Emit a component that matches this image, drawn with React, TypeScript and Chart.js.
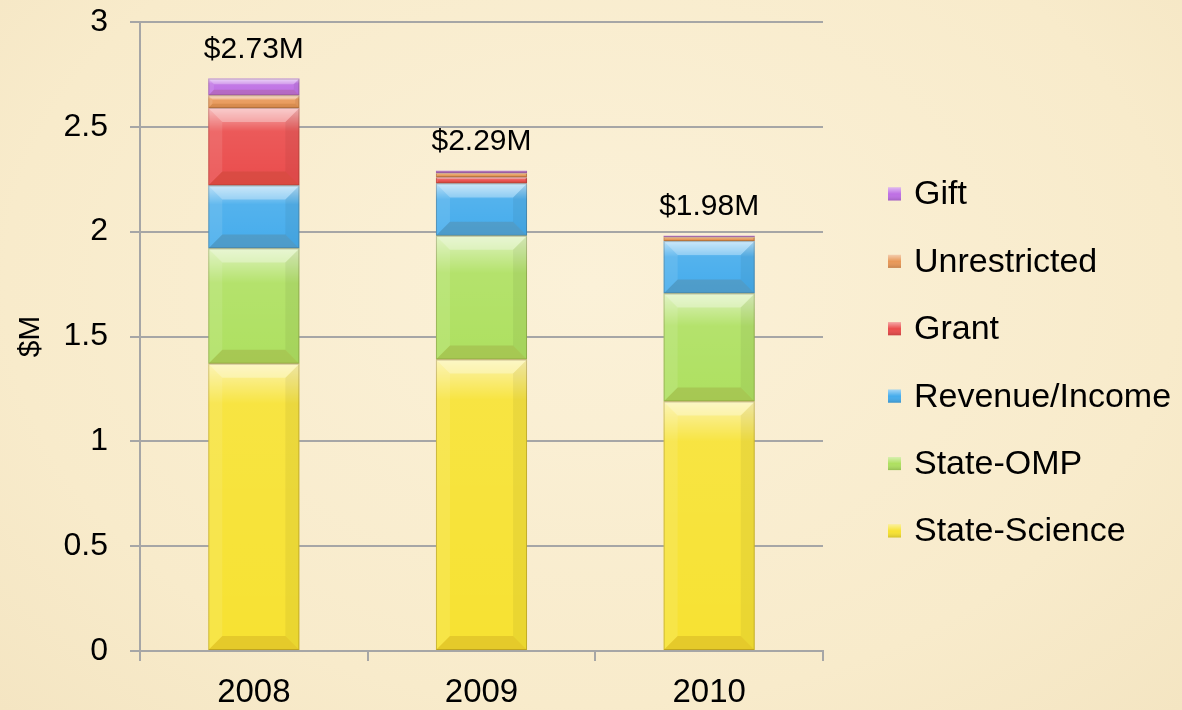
import React, { useEffect, useRef } from "react";
import { Chart, registerables } from "chart.js";

Chart.register(...registerables);

const years = ["2008", "2009", "2010"];
const stateScience = [1.37, 1.39, 1.19];
const stateOMP = [0.55, 0.59, 0.515];
const revenueIncome = [0.3, 0.25, 0.25];
const grant = [0.37, 0.03, 0.0];
const unrestricted = [0.06, 0.02, 0.02];
const gift = [0.08, 0.01, 0.005];
const yTicks = [0, 0.5, 1, 1.5, 2, 2.5, 3];

const seriesNames = ["State-Science", "State-OMP", "Revenue/Income", "Grant", "Unrestricted", "Gift"];
const seriesData = [stateScience, stateOMP, revenueIncome, grant, unrestricted, gift];
const seriesColors = ["#F7E232", "#AEE060", "#45ACEC", "#EA4C4C", "#E89858", "#BE6FE4"];

const FONT = "'Liberation Sans', Arial, sans-serif";

const bevelPlugin = {
  id: "bevel",
  afterDatasetsDraw(chart: any) {
    const ctx = chart.ctx;
    chart.data.datasets.forEach((ds: any, di: number) => {
      const meta = chart.getDatasetMeta(di);
      meta.data.forEach((el: any) => {
        const { x, y, base, width } = el.getProps(["x", "y", "base", "width"], true);
        const x0 = x - width / 2;
        const x1 = x + width / 2;
        const top = Math.min(y, base);
        const bot = Math.max(y, base);
        const h = bot - top;
        if (h < 0.5) return;
        const b = Math.min(14, h / 3);
        ctx.save();
        const g = ctx.createLinearGradient(0, top, 0, bot);
        g.addColorStop(0, "rgba(255,255,255,0.6)");
        g.addColorStop(Math.min(0.3, 40 / h), "rgba(255,255,255,0.08)");
        g.addColorStop(1, "rgba(255,255,255,0)");
        ctx.fillStyle = g;
        ctx.fillRect(x0, top, width, h);
        ctx.fillStyle = "rgba(255,255,255,0.3)";
        ctx.beginPath();
        ctx.moveTo(x0, top);
        ctx.lineTo(x1, top);
        ctx.lineTo(x1 - b, top + b);
        ctx.lineTo(x0 + b, top + b);
        ctx.closePath();
        ctx.fill();
        ctx.fillStyle = "rgba(120,60,0,0.14)";
        ctx.beginPath();
        ctx.moveTo(x0, bot);
        ctx.lineTo(x1, bot);
        ctx.lineTo(x1 - b, bot - b);
        ctx.lineTo(x0 + b, bot - b);
        ctx.closePath();
        ctx.fill();
        ctx.fillStyle = "rgba(255,255,255,0.1)";
        ctx.beginPath();
        ctx.moveTo(x0, top);
        ctx.lineTo(x0 + b, top + b);
        ctx.lineTo(x0 + b, bot - b);
        ctx.lineTo(x0, bot);
        ctx.closePath();
        ctx.fill();
        ctx.fillStyle = "rgba(0,0,0,0.05)";
        ctx.beginPath();
        ctx.moveTo(x1, top);
        ctx.lineTo(x1 - b, top + b);
        ctx.lineTo(x1 - b, bot - b);
        ctx.lineTo(x1, bot);
        ctx.closePath();
        ctx.fill();
        ctx.strokeStyle = "rgba(60,30,0,0.22)";
        ctx.lineWidth = 1;
        ctx.strokeRect(x0 + 0.5, top + 0.5, width - 1, h - 1);
        ctx.restore();
      });
    });
  },
};

const totalsPlugin = {
  id: "totals",
  afterDatasetsDraw(chart: any) {
    const ctx = chart.ctx;
    const yScale = chart.scales.y;
    const meta0 = chart.getDatasetMeta(0);
    ctx.save();
    ctx.font = `30px ${FONT}`;
    ctx.fillStyle = "#000";
    ctx.textAlign = "center";
    ctx.textBaseline = "bottom";
    years.forEach((_, i) => {
      const total = seriesData.reduce((s, arr) => s + arr[i], 0);
      const x = meta0.data[i].x;
      const yPix = yScale.getPixelForValue(total);
      ctx.fillText(`$${total.toFixed(2)}M`, x, yPix - 14);
    });
    ctx.restore();
  },
};

const legendPlugin = {
  id: "customLegend",
  afterDraw(chart: any) {
    const ctx = chart.ctx;
    const area = chart.chartArea;
    const items = chart.data.datasets.map((d: any) => ({ label: d.label, color: d.backgroundColor })).reverse();
    const boxX = area.right + 65;
    const startY = 194;
    const step = 67.4;
    ctx.save();
    ctx.font = `34px ${FONT}`;
    ctx.textBaseline = "middle";
    ctx.textAlign = "left";
    items.forEach((it: any, i: number) => {
      const cy = startY + i * step;
      const s = 13;
      const bx = boxX;
      const by = cy - s / 2;
      ctx.fillStyle = it.color;
      ctx.fillRect(bx, by, s, s);
      const g = ctx.createLinearGradient(0, by, 0, by + s);
      g.addColorStop(0, "rgba(255,255,255,0.5)");
      g.addColorStop(0.5, "rgba(255,255,255,0)");
      g.addColorStop(1, "rgba(0,0,0,0.15)");
      ctx.fillStyle = g;
      ctx.fillRect(bx, by, s, s);
      ctx.fillStyle = "#000";
      ctx.fillText(it.label, bx + 26, cy + 1);
    });
    ctx.restore();
  },
};

export default function App() {
  const ref = useRef<HTMLCanvasElement | null>(null);
  useEffect(() => {
    if (!ref.current) return;
    const chart = new Chart(ref.current, {
      type: "bar",
      data: {
        labels: years,
        datasets: seriesNames.map((name, i) => ({
          label: name,
          data: seriesData[i],
          backgroundColor: seriesColors[i],
          borderWidth: 0,
          barPercentage: 0.4,
          categoryPercentage: 1,
        })),
      },
      options: {
        responsive: false,
        animation: false,
        layout: { padding: { top: 22, right: 359, left: 0, bottom: 0 } },
        plugins: {
          legend: { display: false },
          tooltip: { enabled: false },
        },
        scales: {
          x: {
            stacked: true,
            offset: true,
            grid: {
              display: true,
              drawOnChartArea: false,
              drawTicks: true,
              tickLength: 10,
              color: "#A6A6A6",
              lineWidth: 2,
              offset: true,
            },
            border: { display: true, color: "#A6A6A6", width: 2 },
            ticks: {
              color: "#000",
              font: { family: FONT, size: 33 },
              padding: 12,
              maxRotation: 0,
            },
            afterFit: (scale: any) => {
              scale.height = 59;
            },
          },
          y: {
            stacked: true,
            min: 0,
            max: 3,
            afterBuildTicks: (scale: any) => {
              scale.ticks = yTicks.map((v) => ({ value: v }));
            },
            grid: {
              color: "#A6A6A6",
              lineWidth: 2,
              tickLength: 10,
            },
            border: { display: true, color: "#A6A6A6", width: 2 },
            ticks: {
              color: "#000",
              font: { family: FONT, size: 32 },
              padding: 22,
              callback: (v: any) => String(v),
            },
            title: {
              display: true,
              text: "$M",
              color: "#000",
              font: { family: FONT, size: 30 },
              padding: { top: 13, bottom: 0 },
            },
            afterFit: (scale: any) => {
              scale.width = 140;
              scale.paddingTop = 0;
              scale.paddingBottom = 0;
            },
          },
        },
      },
      plugins: [bevelPlugin, totalsPlugin, legendPlugin],
    });
    return () => chart.destroy();
  }, []);

  return (
    <div
      style={{
        position: "fixed",
        left: 0,
        top: 0,
        width: 1182,
        height: 710,
        background: "radial-gradient(ellipse at 50% 40%, #FBF1D8 0%, #F8EBCB 70%, #F4E5C2 100%)",
      }}
    >
      <canvas ref={ref} width={1182} height={710} style={{ display: "block" }} />
    </div>
  );
}
